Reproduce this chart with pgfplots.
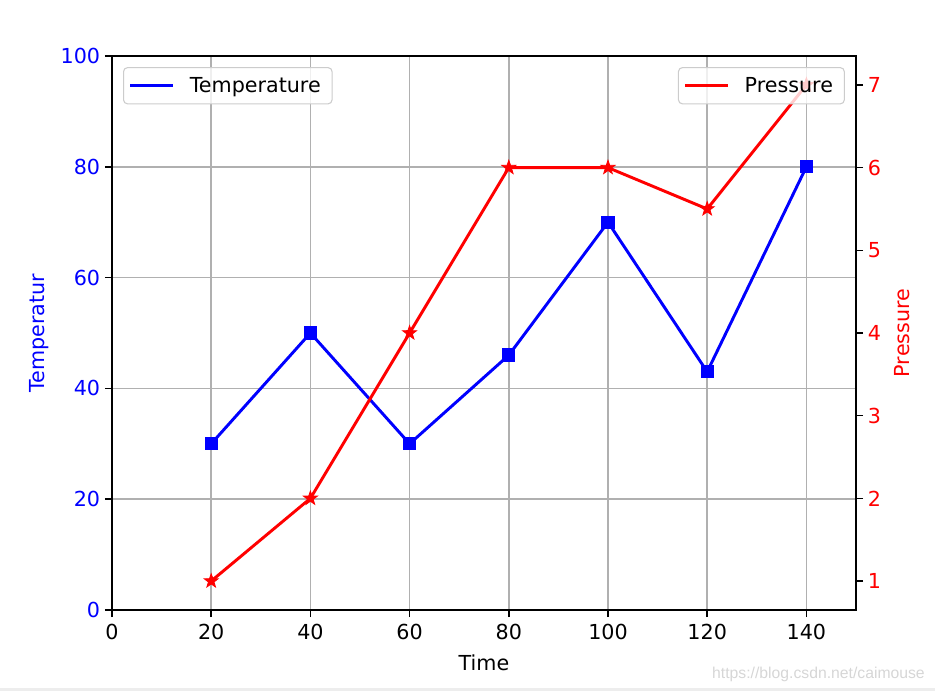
\documentclass[border=0pt]{standalone}
\usepackage{pgfplots}
\pgfplotsset{compat=1.18}
\usepackage{fontspec}
\setmainfont{DejaVu Sans}
\newfontfamily\wmfont{Liberation Sans}
\pgfdeclareplotmark{fstar}{%
  \pgfpathmoveto{\pgfpointpolar{90}{\pgfplotmarksize}}%
  \pgfpathlineto{\pgfpointpolar{126}{0.4*\pgfplotmarksize}}%
  \pgfpathlineto{\pgfpointpolar{162}{\pgfplotmarksize}}%
  \pgfpathlineto{\pgfpointpolar{198}{0.4*\pgfplotmarksize}}%
  \pgfpathlineto{\pgfpointpolar{234}{\pgfplotmarksize}}%
  \pgfpathlineto{\pgfpointpolar{270}{0.4*\pgfplotmarksize}}%
  \pgfpathlineto{\pgfpointpolar{306}{\pgfplotmarksize}}%
  \pgfpathlineto{\pgfpointpolar{342}{0.4*\pgfplotmarksize}}%
  \pgfpathlineto{\pgfpointpolar{18}{\pgfplotmarksize}}%
  \pgfpathlineto{\pgfpointpolar{54}{0.4*\pgfplotmarksize}}%
  \pgfpathclose\pgfusepathqfillstroke}
\begin{document}
\begin{tikzpicture}
\useasboundingbox (-84pt,-60.75pt) rectangle (617.25pt,457.5pt);
\fill[black!7] (-84pt,-58.5pt) rectangle (617.25pt,-60.75pt);
\node[anchor=base east, inner sep=0pt, text=black!16, font=\wmfont\fontsize{11.8}{14}\selectfont] at (609.75pt,-51.75pt) {https://blog.csdn.net/caimouse};
\pgfplotsset{every axis/.append style={
  scale only axis, width=558pt, height=415.5pt, at={(0pt,0pt)}, anchor=south west,
  font=\fontsize{15.5}{18.6}\selectfont,
  /pgf/number format/assume math mode=true,
  tick align=outside, major tick length=5.4pt,
  tick style={black, line width=1.2pt},
  axis line style={line width=1.2pt},
  xticklabel style={yshift=-2pt},
  legend cell align=left,
  legend image code/.code={\draw[#1, mark=none] (0pt,0pt) -- (32pt,0pt); \path (39pt,0pt);},
  legend style={rounded corners=3pt, draw=black!20, line width=0.8pt, fill=white, fill opacity=0.8, text opacity=1,
    inner xsep=4pt, inner ysep=5.2pt, nodes={inner xsep=3pt, inner ysep=2pt}, font=\fontsize{15.5}{18.6}\selectfont},
  every odd column/.append style={column sep=0pt},
}}
\begin{axis}[
  xmin=0, xmax=150, ymin=0, ymax=100,
  xtick={0,20,...,140}, ytick={0,20,...,100},
  xtick pos=bottom, ytick pos=left,
  grid=major, grid style={color=black!31, line width=1.1pt},
  yticklabel style={blue}, xticklabel style={black},
  ylabel={Temperatur}, ylabel style={blue, yshift=2pt},
  xlabel={Time}, xlabel style={yshift=-4pt},
  legend style={at={(0.0148,0.980)}, anchor=north west, nodes={inner xsep=4.5pt}},
]
\addplot[blue, line width=2.2pt, mark=square*, mark size=4.6pt, mark options={solid, fill=blue, line width=0.8pt}]
  coordinates {(20,30) (40,50) (60,30) (80,46) (100,70) (120,43) (140,80)};
\addlegendentry{Temperature}
\end{axis}
\begin{axis}[
  xmin=0, xmax=150, ymin=0.65, ymax=7.35,
  axis x line=none, axis y line*=right,
  ytick={1,2,...,7},
  yticklabel style={red},
  ylabel={Pressure}, ylabel style={red, yshift=-3pt},
  legend style={at={(0.985,0.980)}, anchor=north east, nodes={inner xsep=4.5pt}},
]
\addplot[red, line width=2.2pt, mark=fstar, mark size=5.5pt, mark options={solid, fill=red, line width=0.6pt}]
  coordinates {(20,1) (40,2) (60,4) (80,6) (100,6) (120,5.5) (140,7)};
\addlegendentry{Pressure}
\end{axis}
\end{tikzpicture}
\end{document}
